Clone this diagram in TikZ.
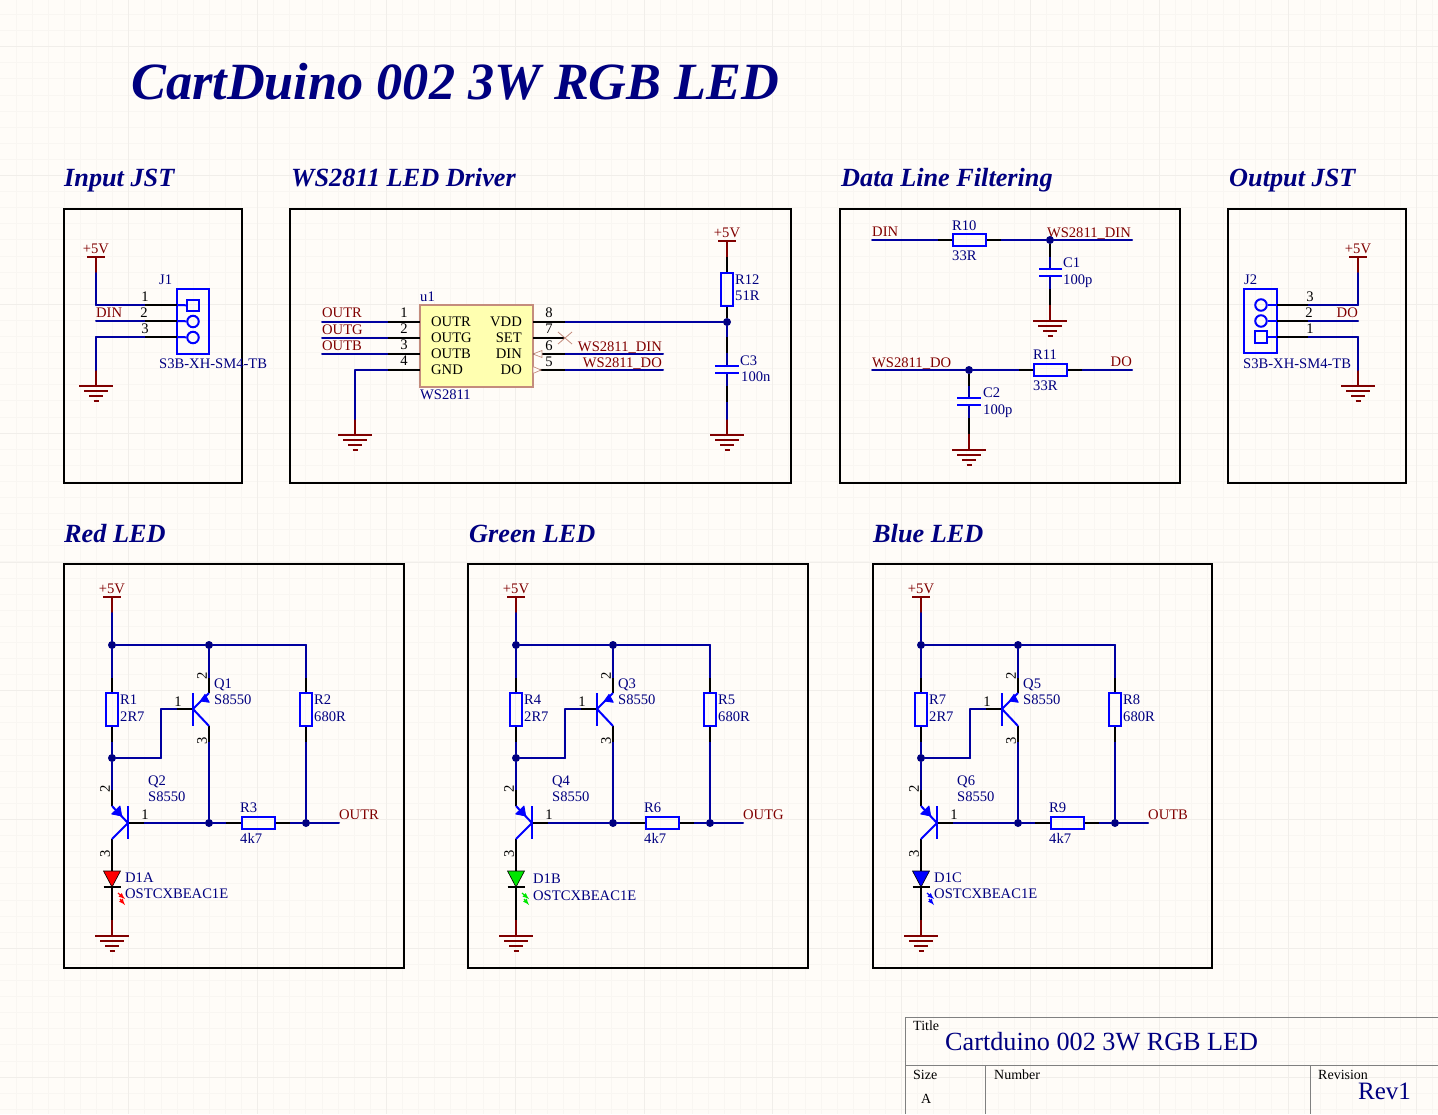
\documentclass[tikz,border=0pt]{standalone}
\usepackage{fontspec}
\setmainfont{Liberation Serif}
\usepackage{tikz}
\usetikzlibrary{shapes,arrows}
\definecolor{paper}{RGB}{255,252,248}
\definecolor{gridl}{RGB}{249,246,242}
\definecolor{gridb}{RGB}{241,238,234}
\definecolor{wirec}{RGB}{0,0,160}
\definecolor{navyt}{RGB}{0,0,128}
\definecolor{redt}{RGB}{128,0,0}
\definecolor{partc}{RGB}{0,0,255}
\definecolor{chipc}{RGB}{255,255,176}
\definecolor{chipl}{RGB}{196,140,125}
\definecolor{sheet}{RGB}{128,128,128}
\definecolor{ledg}{RGB}{0,230,0}

\tikzstyle{wire}=[line width=2pt, draw=wirec, line cap=round, line join=round]
\tikzstyle{pin}=[line width=2pt, draw=black]
\tikzstyle{stub}=[line width=2pt, draw=redt]
\tikzstyle{part}=[line width=2pt, draw=partc]
\tikzstyle{frame}=[rectangle, draw=black, line width=2pt, inner sep=0pt]
\tikzstyle{resv}=[rectangle, draw=partc, line width=2pt, inner sep=0pt, minimum width=11.5pt, minimum height=33pt]
\tikzstyle{resh}=[rectangle, draw=partc, line width=2pt, inner sep=0pt, minimum width=33pt, minimum height=11.5pt]
\tikzstyle{dot}=[circle, fill=navyt, inner sep=0pt, minimum size=8pt]
\tikzstyle{ref}=[inner sep=0pt, anchor=base west, yshift=0.7pt, text=navyt, font=\fontsize{14.6}{16}\selectfont]
\tikzstyle{net}=[inner sep=0pt, anchor=base west, yshift=0.7pt, text=redt, font=\fontsize{14.6}{16}\selectfont]
\tikzstyle{netr}=[net, anchor=base east]
\tikzstyle{num}=[inner sep=0pt, yshift=0.7pt, text=black, font=\fontsize{14.6}{16}\selectfont]
\tikzstyle{numv}=[num, rotate=90]
\tikzstyle{sym}=[inner sep=0pt, anchor=base west, yshift=0.7pt, text=black, font=\fontsize{14.6}{16}\selectfont]
\tikzstyle{head}=[inner sep=0pt, anchor=base west, text=navyt, font=\fontsize{26.25}{30}\selectfont\bfseries\itshape]
\tikzstyle{sheettxt}=[inner sep=0pt, anchor=base west, text=black, font=\fontsize{14}{16}\selectfont]

\newcommand{\vcc}[3]{
	\coordinate (#1) at (#2,#3+16);
	\node[net, anchor=base] (#1lab) at (#2,#3-3) {+5V};
	\path (#2-9,#3) edge [stub] (#2+9,#3) (#2,#3) edge [stub] (#1);
}
\newcommand{\gnd}[3]{
	\coordinate (#1) at (#2,#3-16);
	\path[stub]
		(#2-17,#3) edge [stub] (#2+17,#3)
		(#2-12,#3+5) edge [stub] (#2+12,#3+5)
		(#2-7,#3+10) edge [stub] (#2+7,#3+10)
		(#2-2.5,#3+14.5) edge [stub] (#2+2.5,#3+14.5)
		(#2,#3) edge [stub] (#1);
}
% one transistor stage with its led
\newcommand{\ledblock}[9]{
\begin{scope}[shift={(#1,0)},name prefix=#2]
	\vcc{vc}{112}{597}
	\gnd{gn}{112}{936}

	\node[dot] (j1) at (112,645) {};
	\node[dot] (j2) at (209,645) {};
	\node[dot] (j3) at (112,758) {};
	\node[dot] (j4) at (209,823) {};
	\node[dot] (j5) at (306,823) {};

	\node[resv] (r1) at (112,709.5) {};
	\node[resv] (r2) at (306,709.5) {};
	\node[resh] (r3) at (258,823) {};

	\coordinate (r1a) at (112,678);
	\coordinate (r1b) at (112,742);
	\coordinate (r2c) at (306,645);
	\coordinate (r2a) at (306,678);
	\coordinate (r2b) at (306,742);
	\coordinate (r3a) at (226,823);
	\coordinate (r3b) at (290,823);
	\coordinate (out) at (339,823);
	\coordinate (ba1) at (161,758);
	\coordinate (ba2) at (161,709);
	\coordinate (ba3) at (177,709);

	\coordinate (q1b) at (193,709);
	\coordinate (q1u) at (193,693);
	\coordinate (q1d) at (193,726);
	\coordinate (q1e) at (209,693);
	\coordinate (q1c) at (209,726);
	\coordinate (q1p) at (209,678);
	\coordinate (q1q) at (209,742);

	\coordinate (q2b) at (128,823);
	\coordinate (q2u) at (128,806);
	\coordinate (q2d) at (128,839);
	\coordinate (q2e) at (112,806);
	\coordinate (q2c) at (112,839);
	\coordinate (q2p) at (112,790);
	\coordinate (q2r) at (144,823);

	\coordinate (dt) at (112,871);
	\coordinate (dk) at (112,887);

	\path[wire]
		(vc) edge [wire] (j1)
		(j1) edge [wire] (j2)
		(j2) edge [wire] (r2c)
		(r2c) edge [wire] (r2a)
		(j1) edge [wire] (r1a)
		(r1b) edge [wire] (j3)
		(j3) edge [wire] (ba1)
		(ba1) edge [wire] (ba2)
		(ba2) edge [wire] (ba3)
		(j2) edge [wire] (q1p)
		(q1q) edge [wire] (j4)
		(j3) edge [wire] (q2p)
		(q2r) edge [wire] (j4)
		(j4) edge [wire] (r3a)
		(r3b) edge [wire] (j5)
		(j5) edge [wire] (out)
		(r2b) edge [wire] (j5);
	\path
		(r1a) edge [pin] (r1.north)
		(r1.south) edge [pin] (r1b)
		(r2a) edge [pin] (r2.north)
		(r2.south) edge [pin] (r2b)
		(r3a) edge [pin] (r3.west)
		(r3.east) edge [pin] (r3b)
		(ba3) edge [pin] (q1b)
		(q1p) edge [pin] (q1e)
		(q1c) edge [pin] (q1q)
		(q2p) edge [pin] (q2e)
		(q2b) edge [pin] (q2r)
		(q2c) edge [pin] (dt)
		(dk) edge [pin] (gn);
	\path
		(q1u) edge [part] (q1d)
		(q1e) edge [part] (q1b)
		(q1b) edge [part] (q1c)
		(q2u) edge [part] (q2d)
		(q2e) edge [part] (q2b)
		(q2b) edge [part] (q2c);
	\filldraw[partc, line width=0.8pt, line join=round] (200.3,701) -- (205,694.3) -- (209.3,702.3) -- cycle;
	\filldraw[partc, line width=0.8pt, line join=round] (121.7,816) -- (111.7,814) -- (120,806) -- cycle;

	\draw[fill=#9, line width=0.6pt] (dt)++(-8.5,0) -- ++(17,0) -- (dk) -- cycle;
	\path ([xshift=-8.5pt]dk) edge [pin] ([xshift=8.5pt]dk);
	\draw[-latex, #9, line width=1.2pt] (118,893) -- (125,899);
	\draw[-latex, #9, line width=1.2pt] (120,899) -- (125,905);

	\node[ref] (r1ref) at (120,705) {#3};
	\node[ref] (r1val) at (120,722) {2R7};
	\node[ref] (r2ref) at (314,705) {#4};
	\node[ref] (r2val) at (314,722) {680R};
	\node[ref] (r3ref) at (240,813) {#7};
	\node[ref] (r3val) at (240,844) {4k7};
	\node[ref] (q1ref) at (214,689) {#5};
	\node[ref] (q1val) at (214,705) {S8550};
	\node[ref] (q2ref) at (148,786) {#6};
	\node[ref] (q2val) at (148,802) {S8550};
	\node[net] (outl) at (339,820) {#8};
	\node[num] (q1n1) at (178,702) {1};
	\node[numv] (q1n2) at (202,677) {2};
	\node[numv] (q1n3) at (202,742) {3};
	\node[num] (q2n1) at (145,815) {1};
	\node[numv] (q2n2) at (105,790) {2};
	\node[numv] (q2n3) at (105,855) {3};
\end{scope}
}

\begin{document}
\begin{tikzpicture}[x=1pt,y=-1pt]
\useasboundingbox (0,0) rectangle (1438,1114);
\fill[paper] (0,0) rectangle (1438,1114);
\foreach \n in {1,...,89} \draw[gridl, line width=0.8pt] (16.1*\n-0.1,0) -- (16.1*\n-0.1,1114);
\foreach \n in {0,...,69} \draw[gridl, line width=0.8pt] (0,16.1*\n+14.4) -- (1438,16.1*\n+14.4);
\foreach \n in {1,...,11} \draw[gridb, line width=0.8pt] (128.8*\n-0.1,0) -- (128.8*\n-0.1,1114);
\foreach \n in {0,...,8} \draw[gridb, line width=0.8pt] (0,128.8*\n+46.7) -- (1438,128.8*\n+46.7);

\node[inner sep=0pt, anchor=base west, text=navyt, font=\fontsize{52.3}{60}\selectfont\bfseries\itshape] (maintitle) at (131,99) {CartDuino 002 3W RGB LED};

\node[head] (hinput) at (64,186.5) {Input JST};
\node[head] (hdriver) at (291,186.5) {WS2811 LED Driver};
\node[head] (hfilter) at (841,186.5) {Data Line Filtering};
\node[head] (houtput) at (1229,186.5) {Output JST};
\node[head] (hred) at (64,542.5) {Red LED};
\node[head] (hgreen) at (469,542.5) {Green LED};
\node[head] (hblue) at (873,542.5) {Blue LED};

\node[frame, minimum width=178pt, minimum height=274pt] (boxinput) at (153,346) {};
\node[frame, minimum width=501pt, minimum height=274pt] (boxdriver) at (540.5,346) {};
\node[frame, minimum width=340pt, minimum height=274pt] (boxfilter) at (1010,346) {};
\node[frame, minimum width=178pt, minimum height=274pt] (boxoutput) at (1317,346) {};
\node[frame, minimum width=340pt, minimum height=404pt] (boxred) at (234,766) {};
\node[frame, minimum width=340pt, minimum height=404pt] (boxgreen) at (638,766) {};
\node[frame, minimum width=339pt, minimum height=404pt] (boxblue) at (1042.5,766) {};

% input connector
\vcc{j1v}{96}{257}
\gnd{j1g}{96}{386}
\node[rectangle, draw=partc, line width=2pt, inner sep=0pt, minimum width=32pt, minimum height=64.5pt] (j1) at (193,321.5) {};
\node[rectangle, draw=partc, line width=2pt, inner sep=0pt, minimum size=11.5pt] (j1pa) at (193,305.5) {};
\node[circle, draw=partc, line width=2pt, inner sep=0pt, minimum size=11.5pt] (j1pb) at (193,321.5) {};
\node[circle, draw=partc, line width=2pt, inner sep=0pt, minimum size=11.5pt] (j1pc) at (193,337.5) {};
\coordinate (j1a0) at (96,305);
\coordinate (j1a1) at (145,305);
\coordinate (j1a2) at (177,305);
\coordinate (j1b0) at (96,321);
\coordinate (j1b1) at (145,321);
\coordinate (j1b2) at (177,321);
\coordinate (j1c0) at (96,337);
\coordinate (j1c1) at (145,337);
\coordinate (j1c2) at (177,337);
\path
	(j1v) edge [wire] (j1a0)
	(j1a0) edge [wire] (j1a1)
	(j1b0) edge [wire] (j1b1)
	(j1c1) edge [wire] (j1c0)
	(j1c0) edge [wire] (j1g);
\path
	(j1a1) edge [pin] (j1a2)
	(j1b1) edge [pin] (j1b2)
	(j1c1) edge [pin] (j1c2)
	(j1a2) edge [part] (j1pa)
	(j1b2) edge [part] (j1pb)
	(j1c2) edge [part] (j1pc);
\node[net] (j1din) at (96,318) {DIN};
\node[num] (j1n1) at (145,297) {1};
\node[num] (j1n2) at (144,313) {2};
\node[num] (j1n3) at (145,329) {3};
\node[ref] (j1ref) at (159,285) {J1};
\node[ref] (j1val) at (159,369) {S3B-XH-SM4-TB};

% ws2811
\node[rectangle, draw=chipl, fill=chipc, line width=1.2pt, inner sep=0pt, minimum width=113pt, minimum height=82pt] (u1) at (476.5,346) {};
\coordinate (u1a0) at (322,322);
\coordinate (u1a1) at (388,322);
\coordinate (u1a2) at (420,322);
\coordinate (u1b0) at (322,338);
\coordinate (u1b1) at (388,338);
\coordinate (u1b2) at (420,338);
\coordinate (u1c0) at (322,354);
\coordinate (u1c1) at (388,354);
\coordinate (u1c2) at (420,354);
\coordinate (u1d0) at (355,370);
\coordinate (u1d1) at (388,370);
\coordinate (u1d2) at (420,370);
\coordinate (u1h2) at (533,322);
\coordinate (u1h1) at (565,322);
\coordinate (u1g2) at (533,338);
\coordinate (u1g1) at (565,338);
\coordinate (u1f2) at (533,354);
\coordinate (u1f1) at (565,354);
\coordinate (u1f0) at (663,354);
\coordinate (u1e2) at (533,370);
\coordinate (u1e1) at (565,370);
\coordinate (u1e0) at (663,370);
\gnd{u1g}{355}{435}
\vcc{r12v}{727}{241}
\gnd{c3g}{727}{435}
\node[dot] (j6) at (727,322) {};
\node[resv] (r12) at (727,289) {};
\coordinate (c3a) at (727,337);
\coordinate (c3b) at (727,353);
\coordinate (c3c) at (727,366);
\coordinate (c3d) at (727,373);
\coordinate (c3e) at (727,386);
\coordinate (c3f) at (727,402);
\node[net] (u1outr) at (322,318.5) {OUTR};
\node[net] (u1outg) at (322,335) {OUTG};
\node[net] (u1outb) at (322,351) {OUTB};
\node[netr] (u1din) at (662,352) {WS2811\_DIN};
\node[netr] (u1do) at (662,368) {WS2811\_DO};
\path
	(u1a0) edge [wire] (u1a1)
	(u1b0) edge [wire] (u1b1)
	(u1c0) edge [wire] (u1c1)
	(u1d1) edge [wire] (u1d0)
	(u1d0) edge [wire] (u1g)
	(u1h1) edge [wire] (j6)
	(u1f1) edge [wire] (u1f0)
	(u1e1) edge [wire] (u1e0)
	(j6) edge [wire] (c3a)
	(c3b) edge [wire] (c3c)
	(c3d) edge [wire] (c3e)
	(c3f) edge [wire] (c3g);
\path
	(u1a1) edge [pin] (u1a2)
	(u1b1) edge [pin] (u1b2)
	(u1c1) edge [pin] (u1c2)
	(u1d1) edge [pin] (u1d2)
	(u1h2) edge [pin] (u1h1)
	(u1g2) edge [pin] (u1g1)
	(u1f2) edge [pin] (u1f1)
	(u1e2) edge [pin] (u1e1)
	(r12v) edge [pin] (r12.north)
	(r12.south) edge [pin] (j6)
	(c3a) edge [pin] (c3b)
	(c3e) edge [pin] (c3f);
\path
	(715,366) edge [part] (739,366)
	(715,373) edge [part] (739,373);
\draw[chipl, fill=paper, line width=0.7pt] (533,354) -- (542,350.5) -- (542,357.5) -- cycle;
\draw[chipl, fill=paper, line width=0.7pt] (533,366.5) -- (541,370) -- (533,373.5) -- cycle;
\draw[chipl, line width=0.8pt] (u1g1)++(-7,-6) -- ++(14,12);
\draw[chipl, line width=0.8pt] (u1g1)++(-7,6) -- ++(14,-12);
\node[ref] (u1ref) at (420,302) {u1};
\node[ref] (u1val) at (420,400) {WS2811};
\node[sym] (s1) at (431,327) {OUTR};
\node[sym] (s2) at (431,343) {OUTG};
\node[sym] (s3) at (431,359) {OUTB};
\node[sym] (s4) at (431,375) {GND};
\node[sym, anchor=base east] (s8) at (522,327) {VDD};
\node[sym, anchor=base east] (s7) at (522,343) {SET};
\node[sym, anchor=base east] (s6) at (522,359) {DIN};
\node[sym, anchor=base east] (s5) at (522,375) {DO};
\node[num] (u1n1) at (404,313) {1};
\node[num] (u1n2) at (404,329) {2};
\node[num] (u1n3) at (404,345) {3};
\node[num] (u1n4) at (404,361) {4};
\node[num] (u1n8) at (549,313) {8};
\node[num] (u1n7) at (549,329) {7};
\node[num] (u1n6) at (549,346) {6};
\node[num] (u1n5) at (549,362) {5};
\node[ref] (r12ref) at (735,285) {R12};
\node[ref] (r12val) at (735,301) {51R};
\node[ref] (c3ref) at (740,366) {C3};
\node[ref] (c3val) at (741,382) {100n};

% filtering
\node[net] (fdin) at (872,237) {DIN};
\node[netr] (fwdin) at (1131,238) {WS2811\_DIN};
\node[net] (fwdo) at (872,368) {WS2811\_DO};
\node[netr] (fdo) at (1132,367) {DO};
\node[resh] (r10) at (969.5,240) {};
\node[resh] (r11) at (1050.5,370) {};
\node[dot] (j7) at (1050,240) {};
\node[dot] (j8) at (969,370) {};
\gnd{c1g}{1050}{321}
\gnd{c2g}{969}{450}
\coordinate (r10o) at (872,240);
\coordinate (r10a) at (938,240);
\coordinate (r10b) at (1001,240);
\coordinate (r10e) at (1132,240);
\coordinate (c1a) at (1050,257);
\coordinate (c1b) at (1050,269);
\coordinate (c1c) at (1050,276);
\coordinate (c1d) at (1050,289);
\coordinate (r11o) at (872,370);
\coordinate (r11a) at (1019,370);
\coordinate (r11b) at (1082,370);
\coordinate (r11e) at (1132,370);
\coordinate (c2a) at (969,386);
\coordinate (c2b) at (969,398);
\coordinate (c2c) at (969,405);
\coordinate (c2d) at (969,418);
\path
	(r10o) edge [wire] (r10a)
	(r10b) edge [wire] (j7)
	(j7) edge [wire] (r10e)
	(c1a) edge [wire] (c1b)
	(c1c) edge [wire] (c1d)
	(r11o) edge [wire] (j8)
	(j8) edge [wire] (r11a)
	(r11b) edge [wire] (r11e)
	(c2a) edge [wire] (c2b)
	(c2c) edge [wire] (c2d);
\path
	(r10a) edge [pin] (r10.west)
	(r10.east) edge [pin] (r10b)
	(j7) edge [pin] (c1a)
	(c1d) edge [pin] (c1g)
	(r11a) edge [pin] (r11.west)
	(r11.east) edge [pin] (r11b)
	(j8) edge [pin] (c2a)
	(c2d) edge [pin] (c2g);
\path
	(1039,269) edge [part] (1062,269)
	(1039,276) edge [part] (1062,276)
	(957,398) edge [part] (981,398)
	(957,405) edge [part] (981,405);
\node[ref] (r10ref) at (952,231) {R10};
\node[ref] (r10val) at (952,261) {33R};
\node[ref] (r11ref) at (1033,360) {R11};
\node[ref] (r11val) at (1033,391) {33R};
\node[ref] (c1ref) at (1063,268) {C1};
\node[ref] (c1val) at (1063,285) {100p};
\node[ref] (c2ref) at (983,398) {C2};
\node[ref] (c2val) at (983,415) {100p};

% output connector
\vcc{j2v}{1358}{257}
\gnd{j2g}{1358}{386}
\node[rectangle, draw=partc, line width=2pt, inner sep=0pt, minimum width=33pt, minimum height=64.5pt] (j2) at (1260.5,321) {};
\node[circle, draw=partc, line width=2pt, inner sep=0pt, minimum size=11.5pt] (j2pa) at (1261,305) {};
\node[circle, draw=partc, line width=2pt, inner sep=0pt, minimum size=11.5pt] (j2pb) at (1261,321) {};
\node[rectangle, draw=partc, line width=2pt, inner sep=0pt, minimum size=11.5pt] (j2pc) at (1261,337) {};
\coordinate (j2a2) at (1277,305);
\coordinate (j2a1) at (1308,305);
\coordinate (j2a0) at (1358,305);
\coordinate (j2b2) at (1277,321);
\coordinate (j2b1) at (1308,321);
\coordinate (j2b0) at (1358,321);
\coordinate (j2c2) at (1277,337);
\coordinate (j2c1) at (1308,337);
\coordinate (j2c0) at (1358,337);
\path
	(j2v) edge [wire] (j2a0)
	(j2a0) edge [wire] (j2a1)
	(j2b1) edge [wire] (j2b0)
	(j2c1) edge [wire] (j2c0)
	(j2c0) edge [wire] (j2g);
\path
	(j2a1) edge [pin] (j2a2)
	(j2b1) edge [pin] (j2b2)
	(j2c1) edge [pin] (j2c2)
	(j2a2) edge [part] (j2pa)
	(j2b2) edge [part] (j2pb)
	(j2c2) edge [part] (j2pc);
\node[netr] (j2do) at (1358,318) {DO};
\node[num] (j2n3) at (1310,297) {3};
\node[num] (j2n2) at (1309,313) {2};
\node[num] (j2n1) at (1310,329) {1};
\node[ref] (j2ref) at (1244,285) {J2};
\node[ref] (j2val) at (1243,369) {S3B-XH-SM4-TB};

% led stages
\ledblock{0}{a}{R1}{R2}{Q1}{Q2}{R3}{OUTR}{red}
\ledblock{404}{b}{R4}{R5}{Q3}{Q4}{R6}{OUTG}{ledg}
\ledblock{809}{c}{R7}{R8}{Q5}{Q6}{R9}{OUTB}{partc}
\node[ref] (d1a) at (125,883) {D1A};
\node[ref] (d1aval) at (125,899) {OSTCXBEAC1E};
\node[ref] (d1b) at (533,884) {D1B};
\node[ref] (d1bval) at (533,901) {OSTCXBEAC1E};
\node[ref] (d1c) at (934,883) {D1C};
\node[ref] (d1cval) at (934,899) {OSTCXBEAC1E};

% title block
\coordinate (tb1) at (1438,1017);
\coordinate (tb2) at (905,1017);
\coordinate (tb3) at (905,1114);
\coordinate (tb4) at (905,1065);
\coordinate (tb5) at (1438,1065);
\coordinate (tb6) at (985,1065);
\coordinate (tb7) at (985,1114);
\coordinate (tb8) at (1310,1065);
\coordinate (tb9) at (1310,1114);
\path[line width=1pt]
	(tb1) edge [sheet] (tb2)
	(tb2) edge [sheet] (tb3)
	(tb4) edge [sheet] (tb5)
	(tb6) edge [sheet] (tb7)
	(tb8) edge [sheet] (tb9);
\node[sheettxt] (tbtitle) at (913,1030) {Title};
\node[sheettxt] (tbsize) at (913,1079) {Size};
\node[sheettxt] (tbnumber) at (994,1079) {Number};
\node[sheettxt] (tbrevision) at (1318,1079) {Revision};
\node[sheettxt] (tba) at (921,1103) {A};
\node[inner sep=0pt, anchor=base west, text=navyt, font=\fontsize{26.2}{30}\selectfont] (tbname) at (945,1050) {Cartduino 002 3W RGB LED};
\node[inner sep=0pt, anchor=base west, text=navyt, font=\fontsize{25}{30}\selectfont] (tbrev) at (1358,1099) {Rev1};
\end{tikzpicture}
\end{document}
